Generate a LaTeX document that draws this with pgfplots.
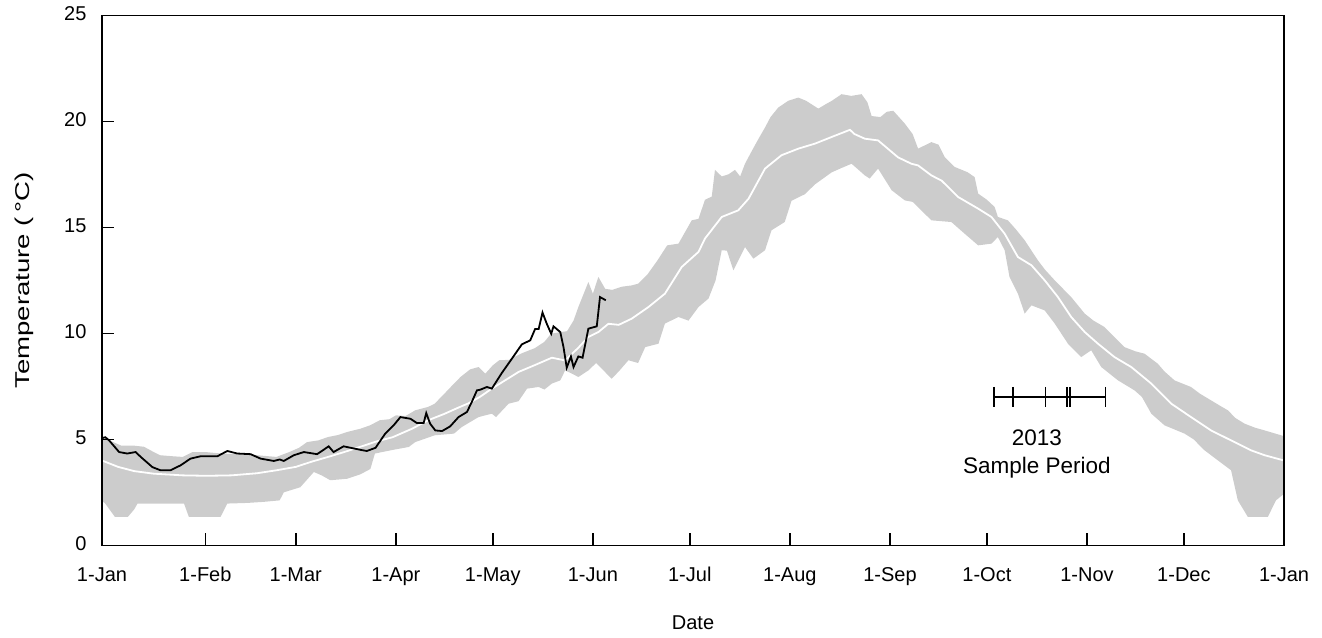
\documentclass[border=0pt]{standalone}
\usepackage{fontspec}
\setmainfont{Liberation Sans}
\usepackage{pgfplots}
\usepackage{pgfplotstable}
\usepgfplotslibrary{fillbetween}
\pgfplotsset{compat=1.18}

\definecolor{bandgrey}{RGB}{204,204,204}

% upper edge of the range band
\pgfplotstableread{
d v
0 5.05
3 4.9
6 4.7
10 4.7
13 4.65
16 4.4
18 4.25
22 4.2
25 4.17
28 4.4
32 4.4
37 4.33
42 4.3
48 4.25
54 4.17
58 4.4
61 4.6
63.5 4.87
67 4.95
70 5.11
73 5.2
76 5.35
80 5.5
83 5.66
86 5.9
89 5.95
91 6.13
94 6.1
97 6.37
101 6.53
103 6.68
106 7.15
109 7.63
111 7.94
114 8.3
116.6 8.41
118.7 8.1
121 8.49
123 8.73
126 8.75
130 9.06
134 9.3
137 9.6
139 9.98
142 10.06
144 10.1
146 10.6
147.5 11.24
150.6 12.42
152 11.87
153.7 12.66
155.8 12.1
158 12.05
161 12.2
164 12.26
166 12.34
169 12.8
172 13.44
175 14.15
178.5 14.23
182.6 15.33
184.7 15.4
186.7 16.3
188.8 16.45
189.8 17.71
191.9 17.4
194 17.5
196 17.71
197.6 17.4
199.1 18.0
201.2 18.6
203 19.1
205.3 19.71
207 20.2
209.4 20.65
212.5 20.97
215.6 21.12
218 20.97
221.8 20.6
224 20.8
226 20.97
229 21.28
232 21.2
235.2 21.28
237 20.9
238.3 20.25
241 20.2
243 20.45
245 20.5
248.6 19.89
251 19.4
252.7 18.71
256.8 19.02
259 18.9
261 18.3
264 17.85
268 17.6
270.2 17.37
271.3 16.59
274 16.3
276.4 15.96
277.4 15.49
280.5 15.33
283 14.9
285.7 14.39
289.8 13.44
292 13.0
295 12.5
300.1 11.71
304.3 10.93
307 10.6
310.4 10.3
313 9.9
316.6 9.35
320 9.15
322.8 9.04
326.9 8.57
329 8.2
332.1 7.78
337.2 7.47
340 7.15
343.4 6.84
346 6.6
348.6 6.37
351 6.0
353.8 5.74
357 5.55
360 5.42
366 5.15
}\bandhi

% lower edge of the range band
\pgfplotstableread{
d v
0 2.1
1 1.97
4 1.34
8 1.34
10 1.7
11 1.97
25.4 1.97
26.9 1.34
36.7 1.34
38.8 1.97
45 2.0
50 2.05
55 2.12
56.3 2.5
61.4 2.74
65.6 3.46
68 3.3
70.7 3.07
75.9 3.14
80 3.35
83.1 3.6
84.5 4.33
90 4.5
95 4.64
97 4.87
103 5.19
109 5.27
111.4 5.58
116.6 6.05
120.7 6.21
122 6.05
125.9 6.68
129 6.8
131.6 7.39
135.2 7.47
137 7.35
139.3 7.63
141.9 7.78
143.4 8.25
145.5 8.1
147.5 7.94
150.6 8.25
153 8.6
157.8 7.86
160 8.2
163 8.73
166 8.6
168.2 9.35
172.3 9.51
174.3 10.46
178.5 10.77
181.6 10.6
184.7 11.24
187.8 11.64
190 12.5
191.9 13.92
193.5 13.9
195.5 12.97
199.1 14.07
201.7 13.52
205.3 13.92
207.3 14.86
211.4 15.25
213.5 16.25
217.6 16.56
220.8 17.03
225.9 17.59
229 17.8
232.1 18.0
236.2 17.45
237.7 17.3
240.3 17.77
244.5 16.75
248.6 16.27
251 16.2
253.7 15.8
256.8 15.33
263 15.25
267.1 14.7
271.3 14.15
275.4 14.23
277.4 14.54
279.5 13.92
281 12.66
283.6 11.87
285.7 10.93
287.8 11.32
291.9 11.08
295 10.46
299.1 9.51
303.2 8.88
306.3 9.2
309.4 8.41
314.6 7.78
319.7 7.31
322 7.0
324.9 6.21
329 5.66
335.2 5.27
338 5.0
341.4 4.48
345.5 4.01
349.6 3.54
351.7 2.12
354.8 1.34
361 1.34
363.5 2.12
366 2.43
}\bandlo

% long-term mean
\pgfplotstableread{
d v
0 4.0
5 3.7
10 3.5
16 3.38
25 3.3
32.5 3.28
40 3.3
48 3.4
54 3.54
60 3.7
65 3.95
70 4.17
75 4.4
80 4.65
85 4.9
90 5.1
96 5.5
101 5.9
106 6.2
110.4 6.5
113.5 6.7
117 7.0
120.7 7.39
125 7.8
129 8.18
134 8.5
139.3 8.85
143.4 8.72
147.5 9.32
150.6 9.83
153.7 10.06
156.8 10.45
160 10.4
164 10.69
169.2 11.24
174.3 11.87
179.5 13.13
184.7 13.84
186.7 14.47
191.9 15.49
197 15.8
200.2 16.35
205.3 17.77
210.4 18.4
215.6 18.71
220.8 18.95
225.9 19.26
231.6 19.6
233 19.4
236.2 19.18
240.3 19.1
246.5 18.3
250.6 18.0
252.7 17.92
256.8 17.45
260 17.2
265.1 16.43
271.3 15.88
275.4 15.49
279.5 14.7
283.6 13.6
287.8 13.21
291.9 12.5
296 11.71
300.1 10.77
304.3 10.06
308.4 9.51
313.5 8.88
318.7 8.41
324.9 7.63
331.1 6.68
337.2 6.05
343.4 5.42
349.6 4.95
355.8 4.48
360 4.25
366 4.0
}\meantab

% 2013 observations
\pgfplotstableread{
d v
0 5.05
1 5.1
2.2 4.95
5.3 4.4
7.8 4.33
10.4 4.4
12 4.17
15.6 3.69
18.1 3.54
21.2 3.54
24.3 3.77
27.4 4.09
30.5 4.2
35.7 4.2
38.8 4.45
41.9 4.33
46 4.3
49.1 4.09
53.2 3.98
55 4.05
56.3 3.98
59.4 4.25
62.5 4.4
66.6 4.3
70.2 4.67
71.7 4.4
74.8 4.67
80.5 4.49
82 4.45
84.7 4.6
87.7 5.27
90.3 5.66
92.4 6.05
95.5 5.97
97.5 5.77
99.6 5.77
100.4 6.24
101.6 5.74
103.2 5.42
105.3 5.39
107.8 5.61
110.4 6.05
113 6.29
114.5 6.76
116.1 7.31
117.1 7.34
119.2 7.47
120.7 7.39
123.8 8.13
126.9 8.8
130 9.48
132.6 9.67
134.1 10.2
135.2 10.2
136.4 10.98
137.7 10.46
139.1 9.98
139.8 10.33
141.9 10.06
142.9 9.35
143.9 8.38
145.2 8.91
146 8.41
147.5 8.91
148.8 8.85
150.6 10.22
153.2 10.33
154.2 11.71
156 11.56
}\obstab

\begin{document}
\begin{tikzpicture}[font=\fontsize{20}{24}\selectfont]
\begin{axis}[
    scale only axis,
    width=1182pt, height=530pt,
    xmin=0, xmax=366,
    ymin=0, ymax=25,
    xtick={0,32,60,91,121,152,182,213,244,274,305,335,366},
    xticklabels={1-Jan,1-Feb,1-Mar,1-Apr,1-May,1-Jun,1-Jul,1-Aug,1-Sep,1-Oct,1-Nov,1-Dec,1-Jan},
    ytick={0,5,10,15,20,25},
    tick align=inside,
    xtick pos=left, ytick pos=left,
    major tick length=12pt,
    axis line style={line width=1.6pt},
    every tick/.style={black, line width=1.5pt},
    axis on top,
    /pgf/number format/assume math mode=true,
    tick label style={font=\fontsize{20}{24}\selectfont},
    typeset ticklabels with strut,
    xticklabel style={yshift=-15.5pt},
    yticklabel style={xshift=-12pt},
    label style={font=\fontsize{20}{24}\selectfont},
    xlabel={Date},
    ylabel={\scalebox{1.38}[1]{Temperature (\,°C)}},
    xlabel style={at={(axis description cs:0.5,-0.1453)}, anchor=center},
    ylabel style={at={(axis description cs:-0.066,0.5)}, anchor=center},
]
\addplot[name path=up, draw=none, forget plot] table[x=d, y=v] {\bandhi};
\addplot[name path=lo, draw=none, forget plot] table[x=d, y=v] {\bandlo};
\addplot[bandgrey, draw=none] fill between[of=up and lo];
\addplot[white, line width=1.8pt] table[x=d, y=v] {\meantab};
\addplot[black, line width=1.8pt] table[x=d, y=v] {\obstab};
% sample period marker
\addplot[black, line width=1.5pt, mark=|, mark size=10pt,
    mark options={line width=1.5pt}]
    coordinates {(276.2,7)(282.1,7)(292.2,7)(298.8,7)(299.8,7)(310.7,7)};
\node[font=\fontsize{22.5}{27}\selectfont] at (axis cs:289.5,5.07) {2013};
\node[font=\fontsize{22.5}{27}\selectfont] at (axis cs:289.5,3.68) {Sample Period};
\end{axis}
\path (-102pt,-92pt) rectangle (1220pt,545pt);
\end{tikzpicture}
\end{document}
